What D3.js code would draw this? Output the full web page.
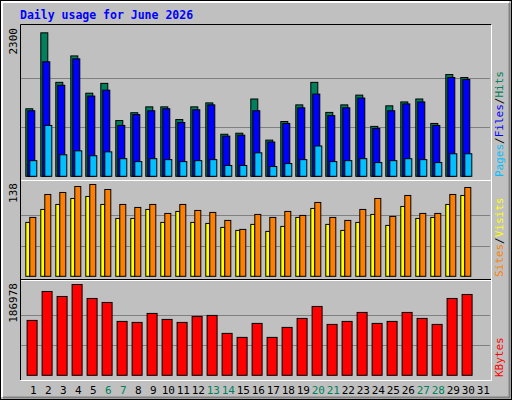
<!DOCTYPE html>
<html><head><meta charset="utf-8">
<script src="https://cdn.jsdelivr.net/npm/d3@7"></script>
<style>body{margin:0;background:#fff}</style>
</head><body>
<script>
var days = d3.range(1, 32);
var weekend = [6, 7, 13, 14, 20, 21, 27, 28];
var hits = [1058,2248,1472,1886,1302,1456,873,996,1088,1088,889,1088,1150,659,675,1211,567,858,1119,1472,1001,1119,1272,782,1104,1165,1211,828,1594,1548];
var files = [1027,1794,1426,1840,1257,1349,797,966,1027,1058,843,1042,1119,629,644,1027,537,828,1073,1288,950,1073,1226,751,1027,1134,1165,797,1548,1518];
var pages = [245,797,337,399,322,383,276,230,276,261,230,245,261,169,169,368,153,199,261,475,230,245,276,215,245,276,261,215,353,353];
var sites = [81,100.5,108,117,120,108,87,87,100.5,81,97.5,81,79.5,73.5,69,78,67.5,75,88.5,102,78,69,81,93,76.5,105,87,88.5,108,121.5];
var visits = [88.5,123,126,135,138,130.5,108,103.5,108,94.5,108,99,96,84,70.5,93,88.5,97.5,91.5,111,88.5,84,100.5,117,90,121.5,94.5,94.5,123,133.5];
var kbytes = [113025,172620,162345,186978,158235,150015,110970,108915,127410,115080,108915,121245,123300,86310,78090,106860,78090,98640,117135,141795,104805,110970,129465,106860,110970,129465,117135,104805,158235,166455];

var W = 512, H = 400, font = "'DejaVu Sans Mono', monospace";
var svg = d3.select("body").append("svg").attr("width", W).attr("height", H);

// frame
svg.append("rect").attr("x", 0.5).attr("y", 0.5).attr("width", W - 1).attr("height", H - 1)
  .attr("fill", "#c0c0c0").attr("stroke", "black");
svg.append("path").attr("d", "M2,397V2H509").attr("fill", "none").attr("stroke", "white").attr("stroke-width", 2);
svg.append("path").attr("d", "M3,397.5H509.5V3").attr("fill", "none").attr("stroke", "#808080").attr("stroke-width", 2);

svg.append("text").attr("x", 20).attr("y", 19).text("Daily usage for June 2026")
  .attr("font-family", font).attr("font-weight", "bold").attr("font-size", 11.5).attr("fill", "#0000ff");

var x = d3.scaleLinear().domain([1, 31]).range([25.3, 475.3]);

// panels
var panels = [
  {top: 25, bottom: 180, base: 176.3, max: 2300, label: "2300"},
  {top: 180, bottom: 280, base: 276.3, max: 138, label: "138"},
  {top: 280, bottom: 380, base: 375.3, max: 186978, label: "186978"}
];
panels.forEach(function(p) {
  p.y = d3.scaleLinear().domain([0, p.max]).range([p.base, p.top + 4.5]);
  svg.append("rect").attr("x", 20.5).attr("y", p.top + 0.5).attr("width", 471).attr("height", p.bottom - p.top)
    .attr("fill", "#c0c0c0").attr("stroke", "none");
  [1 / 3, 2 / 3].forEach(function(f) {
    svg.append("line").attr("x1", 21).attr("x2", 490)
      .attr("y1", Math.round(p.y(p.max * f)) + 0.5).attr("y2", Math.round(p.y(p.max * f)) + 0.5)
      .attr("stroke", "#808080");
  });
  svg.append("text").attr("transform", "translate(17," + (p.top + 3) + ") rotate(-90)")
    .attr("text-anchor", "end").attr("font-family", font).attr("font-size", 11).text(p.label);
});
// panel borders
svg.append("path").attr("d", "M20.5,380V24.5H491.5").attr("fill", "none").attr("stroke", "black");
svg.append("path").attr("d", "M20.5,380.5H491.5V24.5").attr("fill", "none").attr("stroke", "white");
svg.append("line").attr("x1", 21).attr("x2", 491).attr("y1", 180.5).attr("y2", 180.5).attr("stroke", "white");
svg.append("line").attr("x1", 21).attr("x2", 491).attr("y1", 279.5).attr("y2", 279.5).attr("stroke", "black");
svg.append("line").attr("x1", 21).attr("x2", 491).attr("y1", 280.5).attr("y2", 280.5).attr("stroke", "white");

function bars(data, p, dx, w, color) {
  svg.append("g").selectAll("rect").data(data).enter().append("rect")
    .attr("x", function(d, i) { return x(i + 1) + dx + 0.5; })
    .attr("y", function(d) { return p.y(d); })
    .attr("width", w)
    .attr("height", function(d) { return p.base - p.y(d); })
    .attr("fill", color).attr("stroke", "black");
}
bars(hits, panels[0], 0, 7, "#00805c");
bars(files, panels[0], 2, 7, "#0000ff");
bars(pages, panels[0], 4, 7, "#00c0ff");
bars(sites, panels[1], 0, 4, "#ffff00");
bars(visits, panels[1], 4, 6, "#ff8000");
bars(kbytes, panels[2], 1.3, 10, "#ff0000");

// day labels
svg.append("g").selectAll("text").data(days).enter().append("text")
  .attr("x", function(d) { return x(d) + 8; }).attr("y", 394)
  .attr("text-anchor", "middle").attr("font-family", font).attr("font-size", 11)
  .attr("fill", function(d) { return weekend.indexOf(d) >= 0 ? "#00805c" : "black"; })
  .text(function(d) { return d; });

// right legends
function legend(parts, yEnd) {
  var t = svg.append("text").attr("transform", "translate(503," + yEnd + ") rotate(-90)")
    .attr("font-family", font).attr("font-size", 11);
  parts.forEach(function(s) { t.append("tspan").attr("fill", s[1]).text(s[0]); });
}
legend([["Pages", "#00c0ff"], ["/", "black"], ["Files", "#0000ff"], ["/", "black"], ["Hits", "#00805c"]], 177);
legend([["Sites", "#ff8000"], ["/", "black"], ["Visits", "#ffff00"]], 277);
legend([["KBytes", "#ff0000"]], 377);
</script>
</body></html>
